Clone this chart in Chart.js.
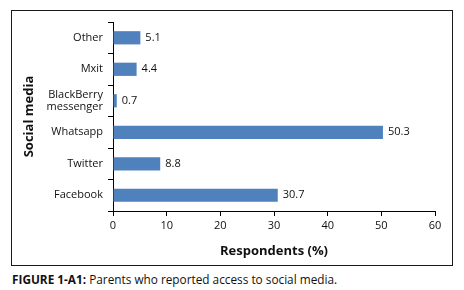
<!DOCTYPE html>
<html>
<head>
<meta charset="utf-8">
<script src="https://cdn.jsdelivr.net/npm/chart.js@4/dist/chart.umd.min.js"></script>
<style>
  html, body { margin: 0; padding: 0; background: #fff; }
  body { width: 464px; height: 290px; position: relative; overflow: hidden; font-family: "Open Sans", Lato, sans-serif; }
  #frame { position: absolute; left: 11px; top: 10px; width: 440px; height: 254px; border: 1px solid #1a1a1a; }
  #wrap { position: absolute; left: 0; top: 0; width: 440px; height: 254px; }
  #caption { position: absolute; left: 12px; top: 271px; font-size: 11.8px; color: #111; white-space: nowrap; }
  #caption b { font-weight: bold; }
</style>
</head>
<body>
<div id="frame"><div id="wrap"><canvas id="c" width="440" height="254"></canvas></div></div>
<div id="caption"><b>FIGURE 1-A1:</b> Parents who reported access to social media.</div>
<script>
const categories = ['Other', 'Mxit', ['BlackBerry', 'messenger'], 'Whatsapp', 'Twitter', 'Facebook'];
const respondents = [5.1, 4.4, 0.7, 50.3, 8.8, 30.7];
const xTickValues = [0, 10, 20, 30, 40, 50, 60];

const FONT = '"Open Sans", Lato, sans-serif';

const valueLabels = {
  id: 'valueLabels',
  afterDatasetsDraw(chart) {
    const ctx = chart.ctx;
    const meta = chart.getDatasetMeta(0);
    ctx.save();
    ctx.font = '11px ' + FONT;
    ctx.fillStyle = '#111';
    ctx.textAlign = 'left';
    ctx.textBaseline = 'middle';
    meta.data.forEach((bar, i) => {
      ctx.fillText(respondents[i].toFixed(1), bar.x + 5, bar.y);
    });
    ctx.restore();
  }
};

new Chart(document.getElementById('c'), {
  type: 'bar',
  data: {
    labels: categories,
    datasets: [{
      data: respondents,
      backgroundColor: '#4F81BD',
      borderWidth: 0,
      categoryPercentage: 1,
      barPercentage: 0.42
    }]
  },
  options: {
    indexAxis: 'y',
    responsive: false,
    animation: false,
    events: [],
    layout: { padding: { top: 10, right: 17, left: 0, bottom: 0 } },
    plugins: { legend: { display: false }, tooltip: { enabled: false } },
    scales: {
      x: {
        min: 0, max: 60,
        afterFit: s => { s.height = 54; },
        afterBuildTicks: s => { s.ticks = xTickValues.map(v => ({ value: v })); },
        border: { display: true, color: '#000', width: 1 },
        grid: { display: true, drawOnChartArea: false, drawTicks: true, tickLength: 5, color: '#000' },
        ticks: { color: '#111', font: { family: FONT, size: 11 }, padding: 3, maxRotation: 0 },
        title: { display: true, text: 'Respondents (%)', color: '#111', font: { family: FONT, size: 13, weight: 'bold' }, padding: { top: 0, bottom: 6 } }
      },
      y: {
        afterFit: s => { s.width = 101; },
        border: { display: true, color: '#000', width: 1 },
        grid: { display: true, drawOnChartArea: false, drawTicks: true, tickLength: 5, color: '#000', offset: true },
        ticks: { color: '#111', font: { family: FONT, size: 11, lineHeight: 1.1 }, padding: 5 },
        title: { display: true, text: 'Social media', color: '#111', font: { family: FONT, size: 13, weight: 'bold' }, padding: { top: 9, bottom: 0 } }
      }
    }
  },
  plugins: [valueLabels]
});
</script>
</body>
</html>
